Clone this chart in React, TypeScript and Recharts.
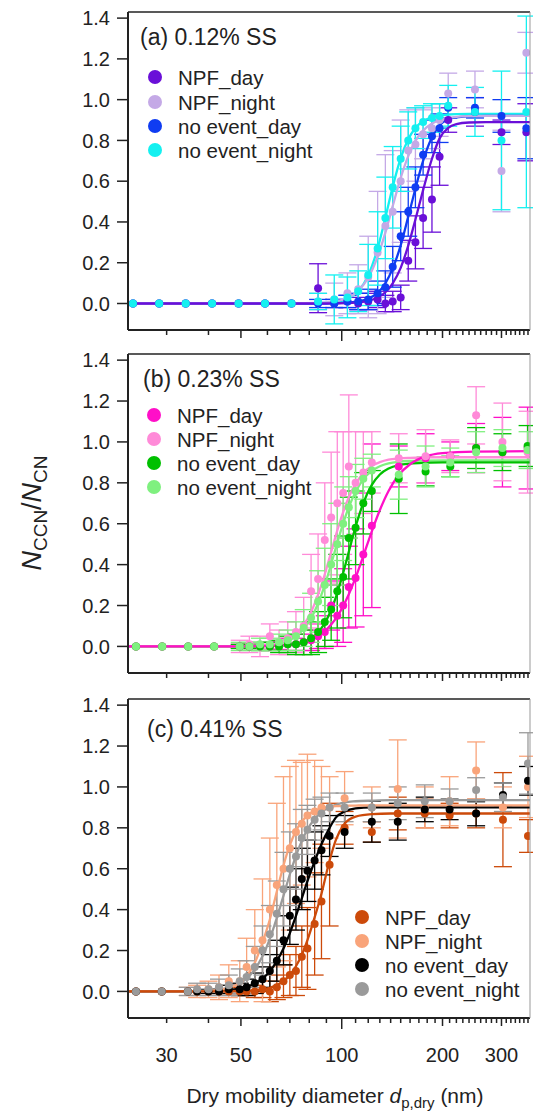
import React from "react";
import { ComposedChart, Scatter, Line, XAxis, YAxis, ErrorBar } from "recharts";

// axis ticks
const X_TICKS = [30, 40, 50, 60, 70, 80, 90, 100, 110, 120, 130, 140, 150, 160, 170, 180, 190, 200, 210, 220, 230, 240, 250, 260, 270, 280, 290, 300, 310, 320, 330, 340, 350, 360];
const X_LABELS = [30, 50, 100, 200, 300];
const Y_TICKS = [0, 0.2, 0.4, 0.6, 0.8, 1.0, 1.2, 1.4];
const NAMES = ["NPF_day", "NPF_night", "no event_day", "no event_night"];

// (a) 0.12% SS
const A_D = [23.8, 28.5, 34.2, 41, 49.2, 59, 70.8, 85, 95, 104, 112, 120, 128, 135, 142, 150, 158, 166, 175, 186, 196, 208, 250, 300, 356];
const A_NPF_DAY = [0, 0, 0, 0, 0, 0, 0, 0.075, 0, 0.01, 0, 0.01, 0.02, 0, 0.01, 0.03, 0.21, 0.3, 0.42, 0.51, 0.72, 0.9, 0.94, 0.84, 0.84];
const A_NPF_DAY_ERR = [0, 0, 0, 0, 0, 0, 0, 0.12, 0.02, 0.03, 0.03, 0.04, 0.04, 0.04, 0.05, 0.06, 0.1, 0.13, 0.15, 0.16, 0.14, 0.06, 0.07, 0.06, 0.14];
const A_NPF_NIGHT = [0, 0, 0, 0, 0, 0, 0, 0.01, 0.02, 0.05, 0.07, 0.13, 0.25, 0.38, 0.45, 0.6, 0.75, 0.78, 0.83, 0.86, 0.9, 1.03, 1.05, 0.65, 1.23];
const A_NPF_NIGHT_ERR = [0, 0, 0, 0, 0, 0, 0, 0.04, 0.08, 0.1, 0.12, 0.2, 0.3, 0.35, 0.3, 0.3, 0.2, 0.18, 0.12, 0.1, 0.08, 0.1, 0.09, 0.2, 0.1];
const A_NE_DAY = [0, 0, 0, 0, 0, 0, 0, 0, 0, 0.01, 0.01, 0.02, 0.05, 0.08, 0.18, 0.33, 0.45, 0.57, 0.73, 0.82, 0.86, 0.96, 0.96, 0.92, 0.86];
const A_NE_DAY_ERR = [0, 0, 0, 0, 0, 0, 0, 0.02, 0.02, 0.03, 0.04, 0.05, 0.06, 0.08, 0.1, 0.12, 0.12, 0.1, 0.1, 0.08, 0.07, 0.05, 0.05, 0.08, 0.15];
const A_NE_NIGHT = [0, 0, 0, 0, 0, 0, 0, 0.01, 0.02, 0.03, 0.06, 0.14, 0.27, 0.42, 0.57, 0.71, 0.8, 0.86, 0.89, 0.91, 0.92, 0.97, 0.94, 0.8, 0.94];
const A_NE_NIGHT_ERR = [0, 0, 0, 0, 0, 0, 0, 0.04, 0.12, 0.1, 0.1, 0.15, 0.18, 0.2, 0.2, 0.16, 0.14, 0.1, 0.08, 0.07, 0.06, 0.1, 0.12, 0.34, 0.47];
const A_FIT_D = [23, 70, 85, 95, 104, 112, 120, 128, 135, 142, 150, 158, 166, 175, 186, 196, 208, 220, 240, 270, 365];
const A_NPF_DAY_FIT = [0, 0, 0, 0.001, 0.002, 0.006, 0.013, 0.029, 0.055, 0.099, 0.175, 0.284, 0.412, 0.556, 0.71, 0.81, 0.862, 0.88, 0.888, 0.89, 0.89];
const A_NPF_NIGHT_FIT = [0, 0.001, 0.003, 0.01, 0.027, 0.062, 0.126, 0.23, 0.348, 0.478, 0.616, 0.723, 0.798, 0.848, 0.883, 0.899, 0.91, 0.916, 0.919, 0.92, 0.92];
const A_NE_DAY_FIT = [0, 0, 0, 0.001, 0.004, 0.01, 0.024, 0.052, 0.099, 0.172, 0.285, 0.426, 0.564, 0.7, 0.815, 0.875, 0.903, 0.913, 0.918, 0.92, 0.92];
const A_NE_NIGHT_FIT = [0, 0, 0.002, 0.007, 0.024, 0.06, 0.138, 0.27, 0.421, 0.572, 0.713, 0.806, 0.861, 0.895, 0.914, 0.922, 0.927, 0.929, 0.93, 0.93, 0.93];

// (b) 0.23% SS
const B_D = [24.3, 29.1, 34.8, 41.6, 49.6, 53, 57, 61, 65, 69, 73, 77, 81, 85, 89, 93, 97, 101, 105, 110, 116, 123, 148, 178, 211, 252, 302, 359];
const B_NPF_DAY = [0, 0, 0, 0, 0, 0, 0, 0, 0.005, 0.01, 0.01, 0.02, 0.03, 0.05, 0.07, 0.2, 0.15, 0.2, 0.29, 0.335, 0.45, 0.59, 0.88, 0.92, 0.93, 0.97, 0.95, 0.97];
const B_NPF_DAY_ERR = [0, 0, 0, 0, 0.01, 0.01, 0.01, 0.02, 0.02, 0.03, 0.03, 0.04, 0.05, 0.06, 0.08, 0.12, 0.15, 0.18, 0.2, 0.24, 0.3, 0.4, 0.1, 0.12, 0.07, 0.12, 0.17, 0.2];
const B_NPF_NIGHT = [0, 0, 0, 0, 0, 0.01, 0, 0.05, 0.02, 0.04, 0.07, 0.1, 0.27, 0.33, 0.52, 0.63, 0.7, 0.75, 0.88, 0.8, 0.85, 0.9, 0.92, 0.93, 0.93, 1.13, 1.0, 0.95];
const B_NPF_NIGHT_ERR = [0, 0, 0, 0, 0.03, 0.04, 0.05, 0.06, 0.06, 0.08, 0.1, 0.14, 0.18, 0.22, 0.28, 0.32, 0.35, 0.3, 0.35, 0.25, 0.2, 0.15, 0.12, 0.13, 0.08, 0.14, 0.19, 0.2];
const B_NE_DAY = [0, 0, 0, 0, 0, 0, 0, 0, 0, 0.01, 0.01, 0.02, 0.04, 0.07, 0.12, 0.18, 0.27, 0.34, 0.53, 0.58, 0.7, 0.76, 0.82, 0.855, 0.88, 0.97, 0.95, 0.98];
const B_NE_DAY_ERR = [0, 0, 0, 0, 0.01, 0.01, 0.02, 0.02, 0.03, 0.04, 0.05, 0.06, 0.08, 0.1, 0.12, 0.15, 0.18, 0.2, 0.2, 0.18, 0.15, 0.1, 0.17, 0.07, 0.05, 0.1, 0.09, 0.1];
const B_NE_NIGHT = [0, 0, 0, 0, 0, 0, 0.01, 0.01, 0.02, 0.03, 0.05, 0.09, 0.14, 0.22, 0.3, 0.4, 0.5, 0.6, 0.68, 0.76, 0.82, 0.86, 0.84, 0.88, 0.9, 0.95, 0.97, 0.96];
const B_NE_NIGHT_ERR = [0, 0, 0, 0, 0.02, 0.02, 0.03, 0.03, 0.04, 0.05, 0.07, 0.09, 0.12, 0.15, 0.18, 0.2, 0.2, 0.18, 0.15, 0.13, 0.1, 0.08, 0.12, 0.1, 0.07, 0.1, 0.09, 0.09];
const B_FIT_D = [23, 45, 49.6, 53, 57, 61, 65, 69, 73, 77, 81, 85, 89, 93, 97, 101, 105, 110, 116, 123, 130, 138, 148, 160, 178, 200, 250, 365];
const B_NPF_DAY_FIT = [0, 0, 0.0005, 0.001, 0.002, 0.003, 0.005, 0.009, 0.014, 0.023, 0.035, 0.053, 0.075, 0.107, 0.147, 0.197, 0.255, 0.336, 0.442, 0.563, 0.667, 0.76, 0.838, 0.891, 0.929, 0.945, 0.953, 0.955];
const B_NPF_NIGHT_FIT = [0, 0, 0.001, 0.002, 0.005, 0.009, 0.018, 0.035, 0.062, 0.105, 0.168, 0.253, 0.353, 0.462, 0.567, 0.657, 0.73, 0.795, 0.848, 0.883, 0.901, 0.913, 0.919, 0.922, 0.924, 0.925, 0.925, 0.925];
const B_NE_DAY_FIT = [0, 0, 0, 0, 0.001, 0.002, 0.003, 0.006, 0.012, 0.022, 0.04, 0.069, 0.114, 0.178, 0.262, 0.359, 0.463, 0.585, 0.701, 0.79, 0.841, 0.87, 0.887, 0.894, 0.898, 0.9, 0.9, 0.9];
const B_NE_NIGHT_FIT = [0, 0, 0.001, 0.002, 0.004, 0.007, 0.015, 0.027, 0.049, 0.085, 0.138, 0.21, 0.3, 0.403, 0.507, 0.602, 0.681, 0.755, 0.817, 0.858, 0.881, 0.895, 0.903, 0.907, 0.909, 0.91, 0.91, 0.91];

// (c) 0.41% SS
const C_D = [24.3, 29, 34.7, 37, 40, 43, 46, 49.6, 52, 55, 58, 61, 64, 67, 70, 73, 76, 79, 83, 87, 92, 102, 123, 147, 177, 210, 252, 303, 360];
const C_NPF_DAY = [0, 0, 0, 0, 0, 0, 0, 0, 0, 0, 0.01, 0, 0.02, 0.05, 0.08, 0.1, 0.17, 0.21, 0.33, 0.44, 0.62, 0.8, 0.78, 0.87, 0.87, 0.86, 0.87, 0.84, 0.76];
const C_NPF_DAY_ERR = [0, 0, 0, 0, 0, 0, 0.01, 0.02, 0.02, 0.03, 0.04, 0.05, 0.06, 0.08, 0.1, 0.12, 0.15, 0.2, 0.25, 0.28, 0.3, 0.08, 0.05, 0.08, 0.07, 0.06, 0.07, 0.23, 0.08];
const C_NPF_NIGHT = [0, 0, 0, 0, 0.01, 0.02, 0.05, 0.05, 0.12, 0.2, 0.25, 0.4, 0.52, 0.6, 0.7, 0.78, 0.82, 0.86, 0.88, 0.9, 0.9, 0.945, 0.9, 0.99, 0.9, 0.93, 1.08, 0.9, 1.0];
const C_NPF_NIGHT_ERR = [0, 0, 0.02, 0.03, 0.04, 0.06, 0.08, 0.1, 0.14, 0.2, 0.3, 0.35, 0.4, 0.45, 0.4, 0.35, 0.3, 0.3, 0.25, 0.2, 0.15, 0.13, 0.1, 0.24, 0.1, 0.12, 0.14, 0.1, 0.15];
const C_NE_DAY = [0, 0, 0, 0, 0, 0, 0.01, 0.01, 0.02, 0.04, 0.06, 0.1, 0.15, 0.25, 0.37, 0.45, 0.55, 0.59, 0.64, 0.69, 0.76, 0.78, 0.83, 0.83, 0.89, 0.89, 0.87, 0.96, 1.03];
const C_NE_DAY_ERR = [0, 0, 0, 0, 0.01, 0.01, 0.02, 0.03, 0.04, 0.05, 0.06, 0.08, 0.1, 0.12, 0.14, 0.15, 0.15, 0.15, 0.14, 0.12, 0.1, 0.08, 0.1, 0.09, 0.06, 0.05, 0.06, 0.06, 0.07];
const C_NE_NIGHT = [0, 0, 0, 0.01, 0.01, 0.02, 0.03, 0.05, 0.07, 0.12, 0.2, 0.28, 0.38, 0.5, 0.6, 0.66, 0.75, 0.79, 0.84, 0.87, 0.9, 0.9, 0.9, 0.92, 0.93, 0.93, 0.985, 0.95, 1.115];
const C_NE_NIGHT_ERR = [0, 0, 0.02, 0.03, 0.03, 0.04, 0.05, 0.06, 0.08, 0.1, 0.12, 0.14, 0.16, 0.18, 0.18, 0.16, 0.14, 0.12, 0.1, 0.08, 0.07, 0.07, 0.07, 0.08, 0.08, 0.06, 0.06, 0.07, 0.15];
const C_FIT_D = [23, 34.7, 37, 40, 43, 46, 49.6, 52, 55, 58, 61, 64, 67, 70, 73, 76, 79, 83, 87, 92, 96, 102, 110, 123, 140, 365];
const C_NPF_DAY_FIT = [0, 0, 0, 0, 0, 0.001, 0.002, 0.003, 0.006, 0.01, 0.018, 0.031, 0.05, 0.08, 0.123, 0.179, 0.251, 0.362, 0.478, 0.64, 0.74, 0.82, 0.855, 0.867, 0.87, 0.87];
const C_NPF_NIGHT_FIT = [0, 0, 0.001, 0.003, 0.007, 0.017, 0.042, 0.075, 0.14, 0.24, 0.352, 0.489, 0.616, 0.715, 0.785, 0.831, 0.86, 0.883, 0.895, 0.902, 0.906, 0.908, 0.909, 0.91, 0.91, 0.91];
const C_NE_DAY_FIT = [0, 0, 0.001, 0.002, 0.004, 0.007, 0.015, 0.023, 0.039, 0.063, 0.098, 0.148, 0.21, 0.285, 0.37, 0.455, 0.539, 0.636, 0.72, 0.8, 0.85, 0.88, 0.895, 0.9, 0.9, 0.9];
const C_NE_NIGHT_FIT = [0, 0.001, 0.002, 0.005, 0.009, 0.019, 0.04, 0.063, 0.108, 0.172, 0.257, 0.36, 0.468, 0.573, 0.663, 0.736, 0.792, 0.843, 0.877, 0.901, 0.913, 0.925, 0.93, 0.933, 0.935, 0.935];

const A_COLORS = ["#6a0fd8", "#c4a9e6", "#0f3cf2", "#14f0f0"];
const B_COLORS = ["#ff0fc8", "#ff8ad8", "#00c000", "#7ff07f"];
const C_COLORS = ["#cc4a0a", "#f9a47a", "#000000", "#9a9a9a"];

const INK = "#222";

type Series = { color: string; y: number[]; err: number[]; fit: number[] };

const mk = (colors: string[], ys: number[][], errs: number[][], fits: number[][]): Series[] =>
  colors.map((c, i) => ({ color: c, y: ys[i], err: errs[i], fit: fits[i] }));

const SERIES_A = mk(A_COLORS, [A_NPF_DAY, A_NPF_NIGHT, A_NE_DAY, A_NE_NIGHT], [A_NPF_DAY_ERR, A_NPF_NIGHT_ERR, A_NE_DAY_ERR, A_NE_NIGHT_ERR], [A_NPF_DAY_FIT, A_NPF_NIGHT_FIT, A_NE_DAY_FIT, A_NE_NIGHT_FIT]);
const SERIES_B = mk(B_COLORS, [B_NPF_DAY, B_NPF_NIGHT, B_NE_DAY, B_NE_NIGHT], [B_NPF_DAY_ERR, B_NPF_NIGHT_ERR, B_NE_DAY_ERR, B_NE_NIGHT_ERR], [B_NPF_DAY_FIT, B_NPF_NIGHT_FIT, B_NE_DAY_FIT, B_NE_NIGHT_FIT]);
const SERIES_C = mk(C_COLORS, [C_NPF_DAY, C_NPF_NIGHT, C_NE_DAY, C_NE_NIGHT], [C_NPF_DAY_ERR, C_NPF_NIGHT_ERR, C_NE_DAY_ERR, C_NE_NIGHT_ERR], [C_NPF_DAY_FIT, C_NPF_NIGHT_FIT, C_NE_DAY_FIT, C_NE_NIGHT_FIT]);

function XTick(props: any) {
  const { x, y, payload, labels } = props;
  const v = payload.value;
  const len = v === 100 ? 11 : v === 50 || v === 200 || v === 300 ? 8 : 5;
  return (
    <g>
      <line x1={x} x2={x} y1={y} y2={y + len} stroke={INK} strokeWidth={1.5} />
      {labels && X_LABELS.includes(v) && (
        <text x={x} y={y + 44} textAnchor="middle" fontSize={20} fill={INK}>
          {v}
        </text>
      )}
    </g>
  );
}

function Panel(props: {
  top: number;
  height: number;
  xHeight: number;
  diam: number[];
  fitD: number[];
  series: Series[];
  labels: boolean;
}) {
  const { top, height, xHeight, diam, fitD, series, labels } = props;
  const order = [3, 2, 1, 0];
  return (
    <div style={{ position: "absolute", left: 0, top }}>
      <ComposedChart width={533} height={height} margin={{ top: 12, right: 3, bottom: 0, left: 0 }}>
        <XAxis
          dataKey="d"
          type="number"
          scale="log"
          domain={[23, 365]}
          allowDataOverflow
          ticks={X_TICKS}
          interval={0}
          height={xHeight}
          tickSize={0}
          tickMargin={0}
          axisLine={false}
          tickLine={false}
          tick={(p: any) => <XTick {...p} labels={labels} />}
        />
        <YAxis
          dataKey="y"
          type="number"
          domain={[-0.13, 1.43]}
          allowDataOverflow
          ticks={Y_TICKS}
          interval={0}
          width={128}
          tickSize={11}
          tickMargin={7}
          axisLine={false}
          tickLine={{ stroke: INK, strokeWidth: 1.5 }}
          tick={{ fontSize: 20, fill: INK }}
          tickFormatter={(v: number) => v.toFixed(1)}
        />
        {series.map((s, k) => (
          <Scatter
            key={"s" + k}
            data={diam.map((d, i) => ({ d, y: s.y[i], e: s.err[i] }))}
            fill={s.color}
            isAnimationActive={false}
            shape={(p: any) => <circle cx={p.cx} cy={p.cy} r={4} fill={s.color} />}
          >
            <ErrorBar dataKey="e" direction="y" width={9} stroke={s.color} strokeWidth={1.3} isAnimationActive={false} />
          </Scatter>
        ))}
        {order.map((k) => (
          <Line
            key={"l" + k}
            data={fitD.map((d, i) => ({ d, y: series[k].fit[i] }))}
            dataKey="y"
            type="monotone"
            stroke={series[k].color}
            strokeWidth={2.3}
            dot={false}
            isAnimationActive={false}
          />
        ))}
      </ComposedChart>
    </div>
  );
}

function Frame({ top, bottom }: { top: number; bottom: number }) {
  return (
    <g>
      <line x1={128} x2={530} y1={top} y2={top} stroke={INK} strokeWidth={1.5} />
      <line x1={128} x2={530} y1={bottom} y2={bottom} stroke={INK} strokeWidth={2} />
      <line x1={128} x2={128} y1={top} y2={bottom} stroke={INK} strokeWidth={2} />
      <line x1={530} x2={530} y1={top} y2={bottom} stroke="#999" strokeWidth={1} />
    </g>
  );
}

function Legend({ x, tx, ys, colors }: { x: number; tx: number; ys: number[]; colors: string[] }) {
  return (
    <g>
      {NAMES.map((n, i) => (
        <g key={n}>
          <circle cx={x} cy={ys[i]} r={7} fill={colors[i]} />
          <text x={tx} y={ys[i] + 7.5} fontSize={20.5} fill={INK}>
            {n}
          </text>
        </g>
      ))}
    </g>
  );
}

export default function App() {
  return (
    <div
      style={{
        position: "absolute",
        left: 0,
        top: 0,
        width: 533,
        height: 1113,
        overflow: "hidden",
        background: "#fff",
        fontFamily: '"Liberation Sans", Arial, sans-serif',
      }}
    >
      <Panel top={0} height={344} xHeight={14} diam={A_D} fitD={A_FIT_D} series={SERIES_A} labels={false} />
      <Panel top={342} height={345} xHeight={14} diam={B_D} fitD={B_FIT_D} series={SERIES_B} labels={false} />
      <Panel top={687} height={386} xHeight={55} diam={C_D} fitD={C_FIT_D} series={SERIES_C} labels={true} />

      <svg width={533} height={1113} style={{ position: "absolute", left: 0, top: 0, pointerEvents: "none" }}>
        <Frame top={12} bottom={330} />
        <Frame top={354} bottom={673} />
        <Frame top={699} bottom={1018} />

        <text x={140} y={45} fontSize={23} fill={INK}>(a) 0.12% SS</text>
        <text x={143} y={387} fontSize={23} fill={INK}>(b) 0.23% SS</text>
        <text x={147} y={737} fontSize={23} fill={INK}>(c) 0.41% SS</text>

        <Legend x={155} tx={178} ys={[77, 102, 126, 150]} colors={A_COLORS} />
        <Legend x={154} tx={177} ys={[415, 439, 463, 487]} colors={B_COLORS} />
        <Legend x={362} tx={385} ys={[917, 941, 965, 989]} colors={C_COLORS} />

        <text transform="translate(41, 513) rotate(-90)" textAnchor="middle" fontSize={27} fill={INK}>
          <tspan fontStyle="italic">N</tspan>
          <tspan fontSize={19} dy={6}>CCN</tspan>
          <tspan dy={-6}>/</tspan>
          <tspan fontStyle="italic">N</tspan>
          <tspan fontSize={19} dy={6}>CN</tspan>
        </text>

        <text x={335} y={1103} textAnchor="middle" fontSize={21} fill={INK}>
          Dry mobility diameter <tspan fontStyle="italic">d</tspan>
          <tspan fontSize={15} dy={5}>p,dry</tspan>
          <tspan dy={-5}> (nm)</tspan>
        </text>
      </svg>
    </div>
  );
}
